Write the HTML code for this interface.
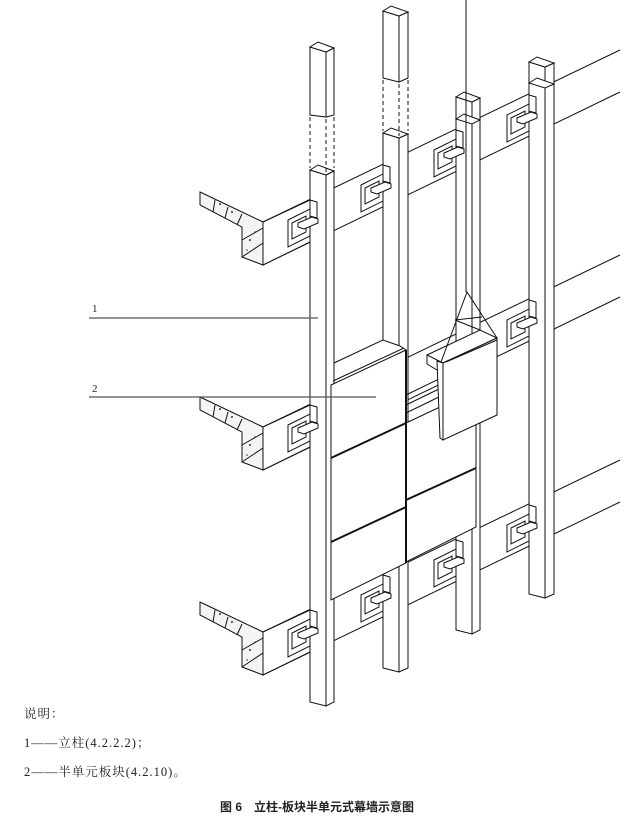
<!DOCTYPE html>
<html><head><meta charset="utf-8"><style>
html,body{margin:0;padding:0;background:#fff;}
svg{display:block}
.t{font-family:"Liberation Serif","Noto Serif CJK SC",serif;fill:#222}
</style></head><body>
<svg width="633" height="829" viewBox="0 0 633 829" xmlns="http://www.w3.org/2000/svg">
<defs>
<g id="br" fill="#fff" stroke="#111" stroke-width="1">
<polygon points="0,20 22,9 22,36 0,47"/>
<polygon points="4,23 18,16 18,32 4,39"/>
<polygon points="22,0 29,2 29,18 22,16"/>
<polygon points="10,23 24,17 30,19 30,23 16,29 10,27"/>
</g>
<g id="slab" stroke="#111" stroke-width="1">
<polygon points="200,192 263,222 263,265 242,257 242,227 200,205" fill="#f4f4f4"/>
<line x1="215" y1="200" x2="213" y2="212"/><line x1="228" y1="207" x2="225" y2="218"/><line x1="242" y1="214" x2="237" y2="225"/>
<line x1="242" y1="240" x2="263" y2="228"/><line x1="242" y1="257" x2="263" y2="243"/>
<polygon points="263,222 310,200 310,242 263,265" fill="#fff"/>
<g fill="#333" stroke="none"><circle cx="220" cy="204" r="1"/><circle cx="232" cy="212" r="1"/><circle cx="250" cy="240" r="1"/><circle cx="255" cy="232" r="0.8"/><circle cx="247" cy="250" r="0.8"/></g>
</g>
</defs>
<g stroke="#111" stroke-width="1" fill="none">
<line x1="263" y1="222" x2="620" y2="50"/>
<line x1="263" y1="265" x2="620" y2="92"/>
<line x1="263" y1="427" x2="620" y2="255"/>
<line x1="263" y1="470" x2="620" y2="297"/>
<line x1="263" y1="632" x2="620" y2="460"/>
<line x1="263" y1="675" x2="620" y2="502"/>
</g>
<use href="#slab"/>
<use href="#slab" y="205"/>
<use href="#slab" y="410"/>
<g stroke="#111" stroke-width="1" fill="#fff">
<polygon points="310,47 326,52 326,117 310,115"/><polygon points="326,52 334,48 334,115 326,117"/><polygon points="310,47 318,42 334,48 326,52"/>
<polygon points="310,170 326,175 326,706 310,702"/><polygon points="326,175 334,171 334,702 326,706"/><polygon points="310,170 318,165 334,171 326,175"/>
<polygon points="383,11 399,16 399,82 383,78"/><polygon points="399,16 408,12 408,78 399,82"/><polygon points="383,11 391,6 408,12 399,16"/>
<polygon points="383,133 399,138 399,672 383,668"/><polygon points="399,138 408,134 408,668 399,672"/><polygon points="383,133 391,128 408,134 399,138"/>
<polygon points="456,97 472,102 472,634 456,630"/><polygon points="472,102 480,98 480,630 472,634"/><polygon points="456,97 464,92 480,98 472,102"/>
<polygon points="456,119 464,114 480,120 472,124"/>
<polygon points="529,62 545,67 545,598 529,594"/><polygon points="545,67 554,63 554,594 545,598"/><polygon points="529,62 537,57 554,63 545,67"/>
<polygon points="529,83 537,78 554,84 545,88"/>
</g>
<g stroke="#111" stroke-width="1" stroke-dasharray="4,3">
<line x1="310" y1="117" x2="310" y2="168"/><line x1="326" y1="119" x2="326" y2="172"/><line x1="334" y1="117" x2="334" y2="168"/>
<line x1="383" y1="80" x2="383" y2="131"/><line x1="399" y1="84" x2="399" y2="136"/><line x1="408" y1="80" x2="408" y2="131"/>
</g>
<use href="#br" x="288" y="200"/><use href="#br" x="288" y="405"/><use href="#br" x="288" y="610"/>
<use href="#br" x="361" y="165"/><use href="#br" x="361" y="575"/>
<use href="#br" x="434" y="130"/><use href="#br" x="434" y="540"/>
<use href="#br" x="507" y="95"/><use href="#br" x="507" y="300"/><use href="#br" x="507" y="505"/>
<g stroke="#111" stroke-width="1" fill="#fff">
<polygon points="334,363 383,340 400,346 406,350 334,385"/>
<polygon points="331,385 406,350 406,563 331,600"/>
<polygon points="406,423 476,390 476,527 406,562"/>
<line x1="333" y1="381" x2="404" y2="348"/>
<line x1="406" y1="350" x2="406" y2="563" stroke-width="2"/>
<line x1="331" y1="458" x2="406" y2="423" stroke-width="2"/>
<line x1="331" y1="542" x2="406" y2="507" stroke-width="2"/>
<line x1="406" y1="500" x2="476" y2="468" stroke-width="2"/>
<line x1="406" y1="395" x2="441" y2="378"/><line x1="406" y1="405" x2="441" y2="388"/>
<line x1="406" y1="413" x2="441" y2="396"/>
<polygon points="427,355 480,330 497,338 443,363"/>
<polygon points="437,361 443,363 443,440 440,438"/>
<polygon points="443,363 497,338 497,415 443,440"/>
<line x1="446" y1="362" x2="497" y2="340"/>
<line x1="427" y1="355" x2="427" y2="364"/>
<line x1="427" y1="364" x2="437" y2="370"/>
</g>
<g stroke="#111" stroke-width="1" fill="none">
<line x1="466" y1="0" x2="466" y2="292"/>
<polyline points="441,362 467,292 497,338"/>
<line x1="455" y1="320" x2="482" y2="317"/>
<line x1="455" y1="320" x2="480" y2="330"/>
<line x1="89" y1="318" x2="318" y2="318" stroke="#555" stroke-width="1.3"/>
<line x1="89" y1="397" x2="376" y2="397" stroke="#555" stroke-width="1.3"/>
</g>
<text x="92" y="312" class="t" font-size="11">1</text>
<text x="92" y="392" class="t" font-size="11">2</text>
<text x="24" y="718" class="t" font-size="12.5" letter-spacing="1">说明：</text>
<text x="24" y="747" class="t" font-size="12.5" letter-spacing="1">1——立柱(4.2.2.2)；</text>
<text x="24" y="776" class="t" font-size="12.5" letter-spacing="1">2——半单元板块(4.2.10)。</text>
<text x="220" y="811" font-family="'Liberation Sans','Noto Sans CJK SC',sans-serif" font-size="12" font-weight="bold" fill="#222">图 6　立柱-板块半单元式幕墙示意图</text>
</svg>
</body></html>
